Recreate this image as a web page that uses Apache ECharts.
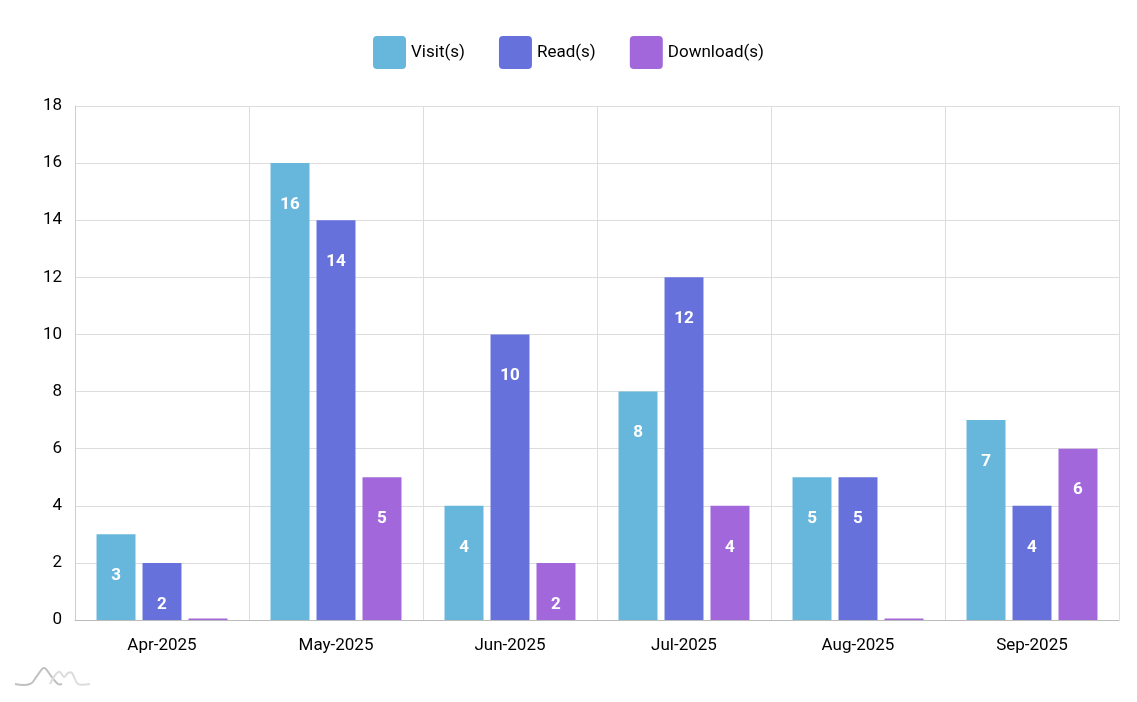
<!DOCTYPE html>
<html><head><meta charset="utf-8">
<script src="https://cdn.jsdelivr.net/npm/echarts@6/dist/echarts.min.js"></script>
<style>html,body{margin:0;padding:0;background:#fff}#c{width:1137px;height:702px}</style>
</head><body><div id="c"></div>
<script>
const categories = ['Apr-2025','May-2025','Jun-2025','Jul-2025','Aug-2025','Sep-2025'];
const visits = [3,16,4,8,5,7];
const reads = [2,14,10,12,5,4];
const downloads = [0,5,2,4,0,6];
const seriesNames = ['Visit(s)','Read(s)','Download(s)'];
const colors = ['#67b7dc','#6771dc','#a367dc'];
const font = 'Roboto';
function mk(name, data, color){
  return {
    name, type:'bar', data, barWidth:'22.4%', barGap:'18%', barMinHeight:1.5,
    itemStyle:{color},
    label:{show:true, position:'insideTop', distance:33, color:'#fff', fontFamily:font, fontSize:17, fontWeight:'bold',
      formatter:p=>p.value===0?'':String(p.value)}
  };
}
const chart = echarts.init(document.getElementById('c'));
chart.setOption({
  animation:false,
  textStyle:{fontFamily:font},
  legend:{top:31, left:'center', itemWidth:33, itemHeight:33, itemGap:34,
    icon:'path://M4,0 H29 Q33,0 33,4 V29 Q33,33 29,33 H4 Q0,33 0,29 V4 Q0,0 4,0 Z',
    textStyle:{fontFamily:font, fontSize:17, color:'#000'}, data:seriesNames},
  grid:{left:75, right:18, top:106, bottom:82},
  xAxis:{type:'category', data:categories,
    axisLine:{lineStyle:{color:'#bbb'}}, axisTick:{show:false},
    axisLabel:{color:'#000', fontSize:17, fontFamily:font, margin:17},
    splitLine:{show:true, lineStyle:{color:'#ddd'}}},
  yAxis:{type:'value', min:0, max:18, interval:2,
    axisLine:{show:true, lineStyle:{color:'#ccc'}}, axisTick:{show:false},
    axisLabel:{color:'#000', fontSize:17, fontFamily:font, margin:13},
    splitLine:{lineStyle:{color:'#ddd'}}},
  series:[mk(seriesNames[0], visits, colors[0]), mk(seriesNames[1], reads, colors[1]), mk(seriesNames[2], downloads, colors[2])],
  graphic:[
    {type:'polyline', shape:{points:[[15,684],[30,684],[37,676],[44,668],[51,676],[58,684],[62,684]], smooth:0.4}, style:{stroke:'#c0c0c0', lineWidth:2, fill:null}},
    {type:'polyline', shape:{points:[[50,684],[56,674],[60,672],[64,677],[68,673],[72,673],[78,684],[90,684]], smooth:0.3}, style:{stroke:'#dcdcdc', lineWidth:2, fill:null}}
  ]
});
</script></body></html>
